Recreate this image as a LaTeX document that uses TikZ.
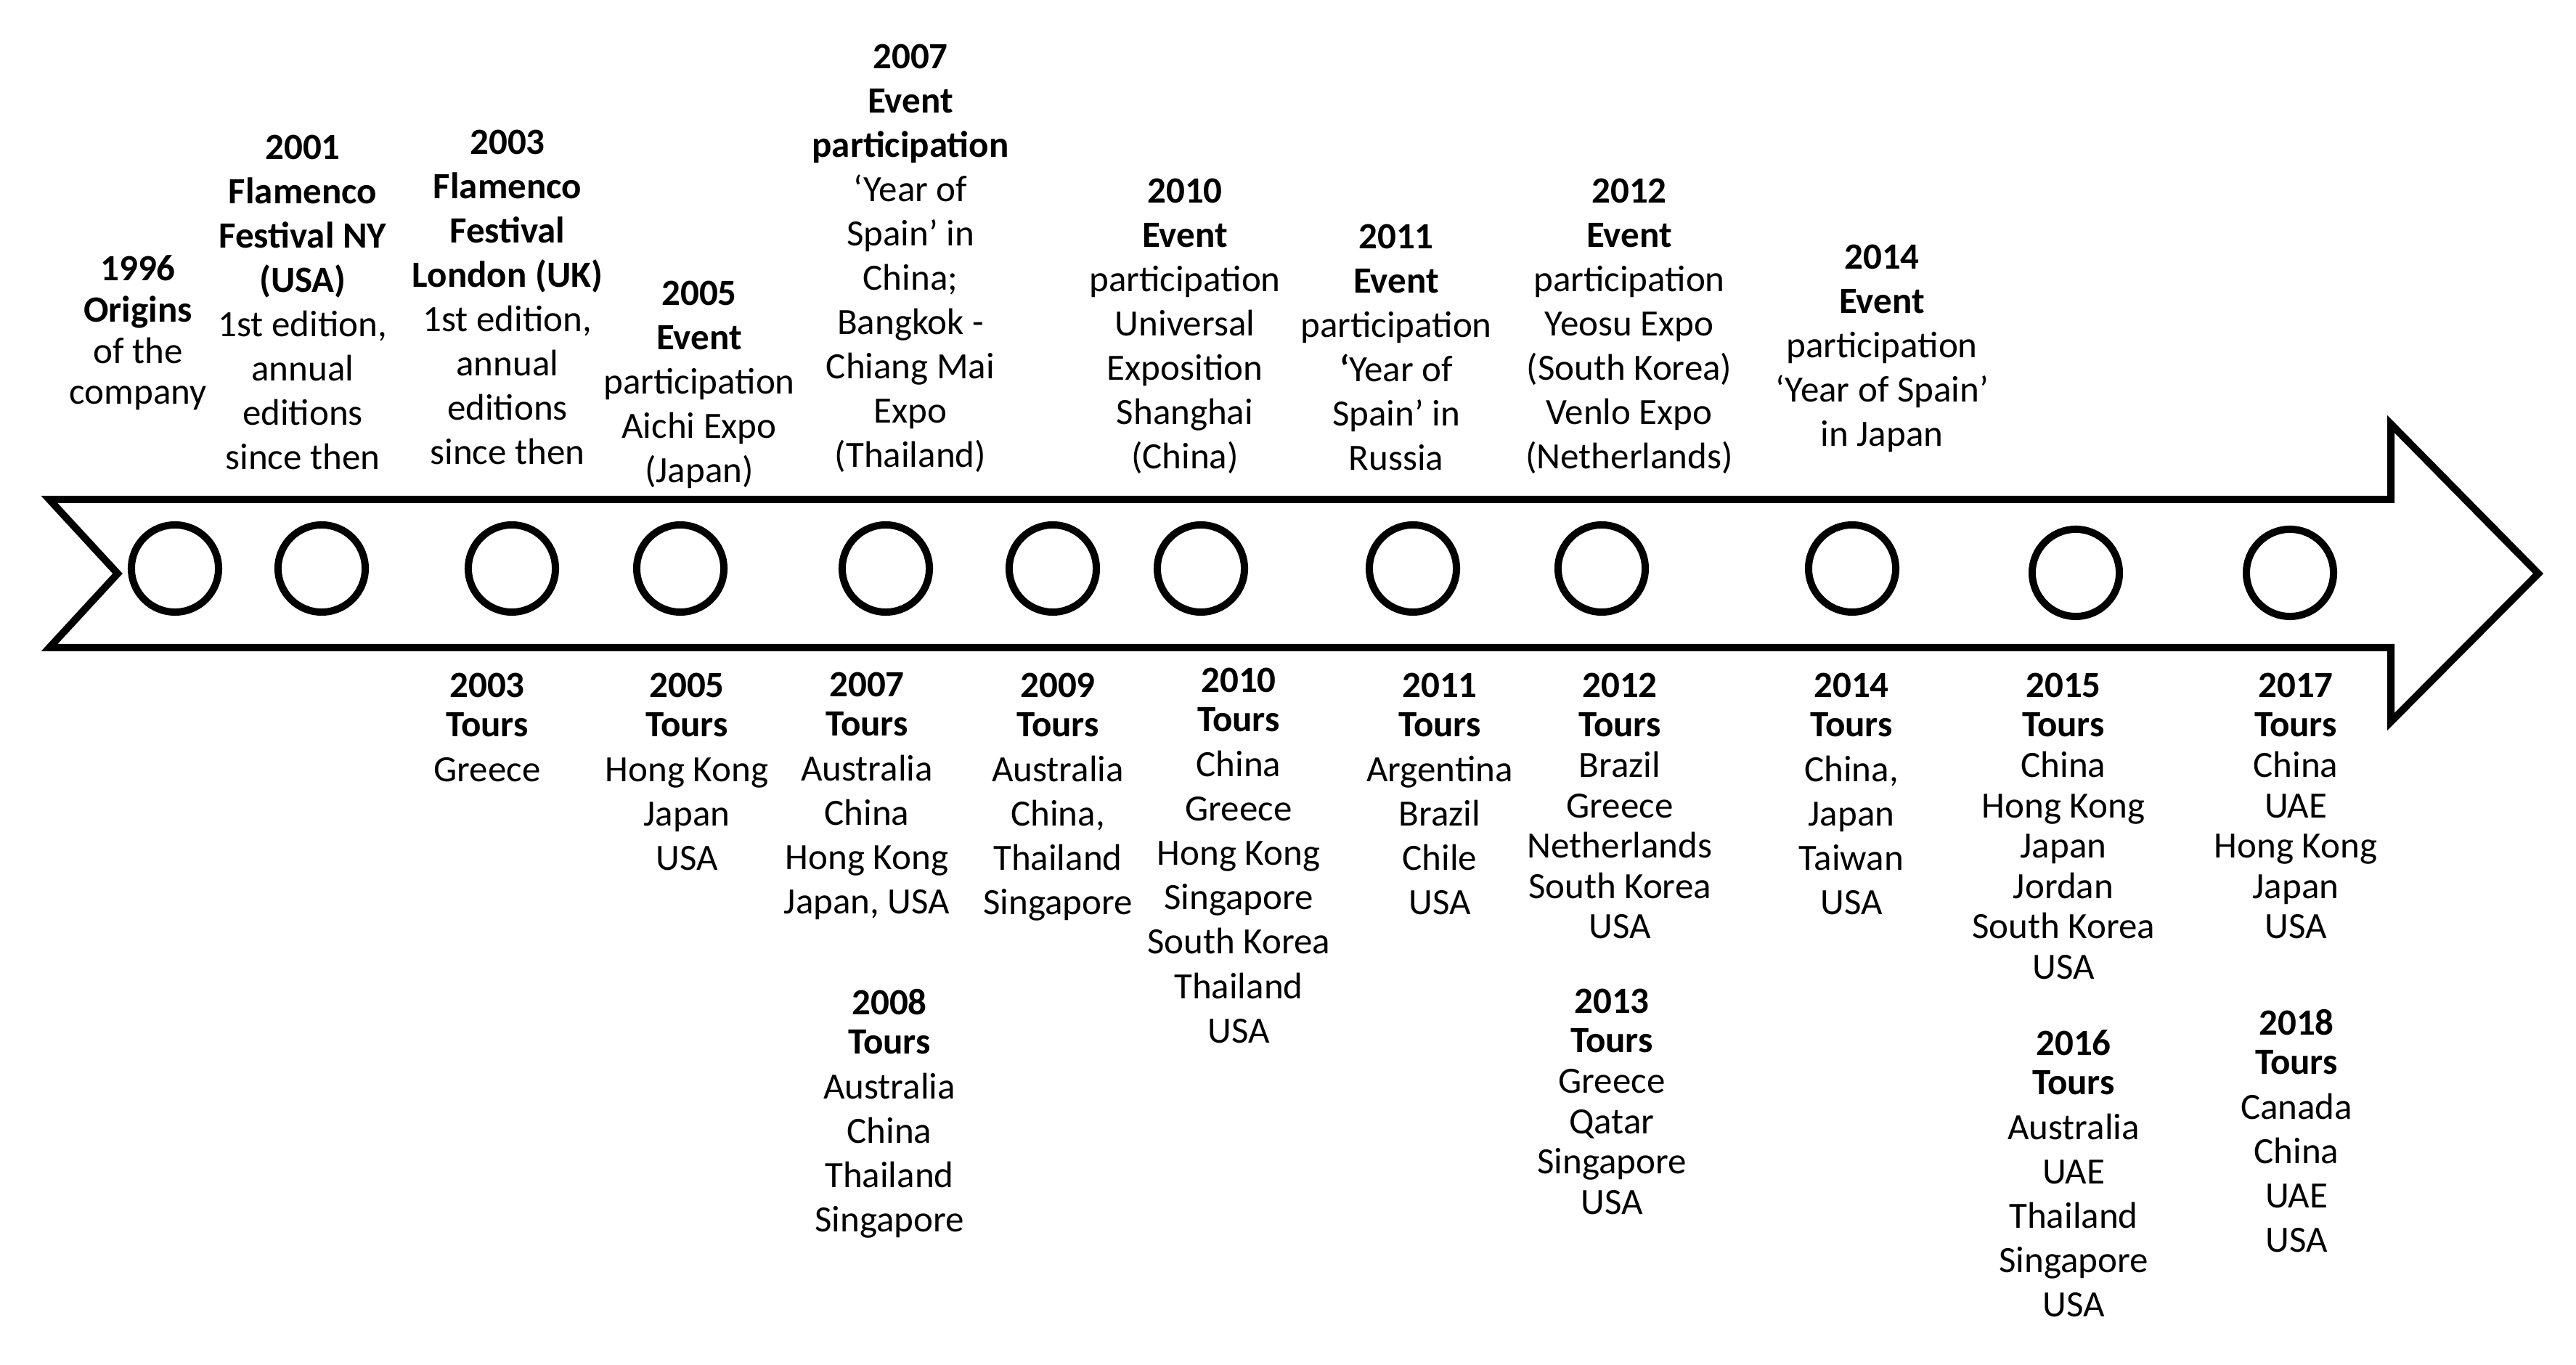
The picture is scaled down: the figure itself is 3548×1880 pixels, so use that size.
\documentclass[tikz,border=0pt]{standalone}
\usepackage{fontspec}
\setmainfont{Carlito}
\newcommand\tstrut{\rule{0pt}{12.25pt}}
\newcommand\fTop{\fontsize{14.5pt}{17.35pt}\selectfont}
\newcommand\fTopT{\fontsize{14.5pt}{16.1pt}\selectfont}
\newcommand\fBot{\fontsize{14.5pt}{17.4pt}\selectfont}
\newcommand\fBotT{\fontsize{14.5pt}{15.8pt}\selectfont}
\begin{document}
\begin{tikzpicture}[x=0.01cm,y=-0.01cm,
  stroke/.style={line width=0.1cm, draw=black},
  dot/.style={stroke, circle, minimum size=1.2cm, inner sep=0pt},
  lbl/.style={anchor=north, align=center, inner sep=0pt, text=black},
  toplbl/.style={lbl, font=\fTop},
  toplblT/.style={lbl, font=\fTopT},
  botlbl/.style={lbl, font=\fBot},
  botlblT/.style={lbl, font=\fBotT}]
\fill[white] (0,0) rectangle (3548,1880);
\useasboundingbox (0,0) rectangle (3548,1880);

% arrow
\draw[stroke, line join=miter] (68,688) -- (3293,688) -- (3293,584) -- (3496,790)
  -- (3293,994) -- (3293,892) -- (68,892) -- (162,790) -- cycle;

% circles
\node[dot] (c1) at (241,783) {};
\node[dot] (c2) at (443,783) {};
\node[dot] (c3) at (705,783) {};
\node[dot] (c4) at (937,783) {};
\node[dot] (c5) at (1220,783) {};
\node[dot] (c6) at (1450,783) {};
\node[dot] (c7) at (1654,783) {};
\node[dot] (c8) at (1946,783) {};
\node[dot] (c9) at (2206,783) {};
\node[dot] (c10) at (2551,783) {};
\node[dot] (c11) at (2859,789) {};
\node[dot] (c12) at (3154,789) {};

% top labels
\node[toplblT] (t1996) at (190,343) {\tstrut\textbf{1996}\\\textbf{Origins}\\of the\\company};
\node[toplbl] (t2001) at (417,176) {\tstrut\textbf{2001}\\\textbf{Flamenco}\\\textbf{Festival NY}\\\textbf{(USA)}\\1st edition,\\annual\\editions\\since then};
\node[toplbl] (t2003) at (699,169) {\tstrut\textbf{2003}\\\textbf{Flamenco}\\\textbf{Festival}\\\textbf{London (UK)}\\1st edition,\\annual\\editions\\since then};
\node[toplbl] (t2005) at (963,377) {\tstrut\textbf{2005}\\\textbf{Event}\\participation\\Aichi Expo\\(Japan)};
\node[toplbl] (t2007) at (1254,51) {\tstrut\textbf{2007}\\\textbf{Event}\\\textbf{participation}\\‘Year of\\Spain’ in\\China;\\Bangkok -\\Chiang Mai\\Expo\\(Thailand)};
\node[toplbl] (t2010) at (1632,236) {\tstrut\textbf{2010}\\\textbf{Event}\\participation\\Universal\\Exposition\\Shanghai\\(China)};
\node[toplbl] (t2011) at (1923,299) {\tstrut\textbf{2011}\\\textbf{Event}\\participation\\\textbf{‘}Year of\\Spain’ in\\Russia};
\node[toplbl] (t2012) at (2244,236) {\tstrut\textbf{2012}\\\textbf{Event}\\participation\\Yeosu Expo\\(South Korea)\\Venlo Expo\\(Netherlands)};
\node[toplbl] (t2014) at (2592,327) {\tstrut\textbf{2014}\\\textbf{Event}\\participation\\‘Year of Spain’\\in Japan};

% bottom labels
\node[botlbl] (b2003) at (671,917) {\tstrut\textbf{2003}\\[-2pt]\textbf{Tours}\\Greece};
\node[botlbl] (b2005) at (946,917) {\tstrut\textbf{2005}\\[-2pt]\textbf{Tours}\\Hong Kong\\Japan\\USA};
\node[botlbl] (b2007) at (1194,916) {\tstrut\textbf{2007}\\[-2pt]\textbf{Tours}\\Australia\\China\\Hong Kong\\Japan, USA};
\node[botlbl] (b2008) at (1225,1354) {\tstrut\textbf{2008}\\[-2pt]\textbf{Tours}\\Australia\\China\\Thailand\\Singapore};
\node[botlbl] (b2009) at (1457,917) {\tstrut\textbf{2009}\\[-2pt]\textbf{Tours}\\Australia\\China,\\Thailand\\Singapore};
\node[botlbl] (b2010) at (1706,910) {\tstrut\textbf{2010}\\[-2pt]\textbf{Tours}\\China\\Greece\\Hong Kong\\Singapore\\South Korea\\Thailand\\USA};
\node[botlbl] (b2011) at (1983,917) {\tstrut\textbf{2011}\\[-2pt]\textbf{Tours}\\Argentina\\Brazil\\Chile\\USA};
\node[botlblT] (b2012) at (2231,917) {\tstrut\textbf{2012}\\[-0.4pt]\textbf{Tours}\\Brazil\\Greece\\Netherlands\\South Korea\\USA};
\node[botlblT] (b2013) at (2220,1352) {\tstrut\textbf{2013}\\[-0.4pt]\textbf{Tours}\\Greece\\Qatar\\Singapore\\USA};
\node[botlbl] (b2014) at (2550,917) {\tstrut\textbf{2014}\\[-2pt]\textbf{Tours}\\China,\\Japan\\Taiwan\\USA};
\node[botlblT] (b2015) at (2842,917) {\tstrut\textbf{2015}\\[-0.4pt]\textbf{Tours}\\China\\Hong Kong\\Japan\\Jordan\\South Korea\\USA};
\node[botlbl] (b2016) at (2856,1410) {\tstrut\textbf{2016}\\[-2pt]\textbf{Tours}\\Australia\\UAE\\Thailand\\Singapore\\USA};
\node[botlblT] (b2017) at (3162,917) {\tstrut\textbf{2017}\\[-0.4pt]\textbf{Tours}\\China\\UAE\\Hong Kong\\Japan\\USA};
\node[botlbl] (b2018) at (3163,1382) {\tstrut\textbf{2018}\\[-2pt]\textbf{Tours}\\Canada\\China\\UAE\\USA};
\end{tikzpicture}
\end{document}
